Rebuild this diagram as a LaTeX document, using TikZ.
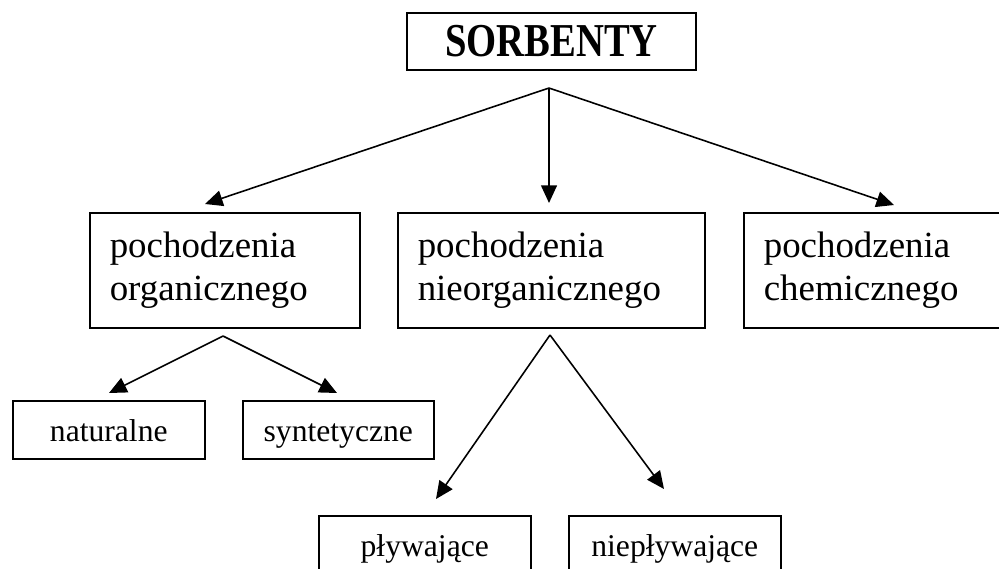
\documentclass[tikz,border=0pt]{standalone}
\usepackage{fontspec}
\setmainfont{Liberation Serif}
\usetikzlibrary{arrows.meta}

\begin{document}
\begin{tikzpicture}[x=0.02cm, y=-0.02cm,
    box/.style={draw, line width=0.9pt, inner sep=0pt},
    bigbox/.style={box, anchor=north west, minimum height=2.3cm, inner xsep=0.4cm,
      align=left, text width=#1, font=\fontsize{21}{24.4}\selectfont},
    smallbox/.style={box, anchor=north west, minimum width=#1, minimum height=1.16cm,
      text height=13pt, text depth=0pt, font=\fontsize{18}{21}\selectfont},
    arr/.style={line width=0.9pt, -{Triangle[length=10pt, width=9pt]}}]
  \useasboundingbox (0,0) rectangle (999,568);

  % Top node
  \node[box, minimum width=5.78cm, minimum height=1.14cm,
    font=\fontsize{22}{26}\selectfont\bfseries] (sorb) at (551.5,41.5)
    {\scalebox{1}[1.22]{SORBENTY}};

  % Second level
  \node[bigbox=4.6cm]  (org)    at (89,212)  {pochodzenia\\organicznego};
  \node[bigbox=5.34cm] (nieorg) at (397,212) {pochodzenia\\nieorganicznego};
  \node[bigbox=4.7cm]  (chem)   at (743,212) {pochodzenia\\chemicznego};

  % Third level
  \node[smallbox=3.84cm] (nat)     at (12,400)  {naturalne};
  \node[smallbox=3.82cm] (syn)     at (242,400) {syntetyczne};
  \node[smallbox=4.24cm] (plyw)    at (318,515) {pływające};
  \node[smallbox=4.24cm] (nieplyw) at (568,515) {niepływające};

  % Arrow ends
  \coordinate (s0) at (549,88);
  \coordinate (s1) at (205,204);
  \coordinate (s2) at (549,203);
  \coordinate (s3) at (894,205);
  \coordinate (o0) at (223,336);
  \coordinate (o1) at (109,393);
  \coordinate (o2) at (337,393);
  \coordinate (n0) at (550,335);
  \coordinate (n1) at (436,499);
  \coordinate (n2) at (664,489);

  % Connections
  \draw[arr] (s0) -- (s1);
  \draw[arr] (s0) -- (s2);
  \draw[arr] (s0) -- (s3);
  \draw[arr] (o0) -- (o1);
  \draw[arr] (o0) -- (o2);
  \draw[arr] (n0) -- (n1);
  \draw[arr] (n0) -- (n2);
\end{tikzpicture}
\end{document}
